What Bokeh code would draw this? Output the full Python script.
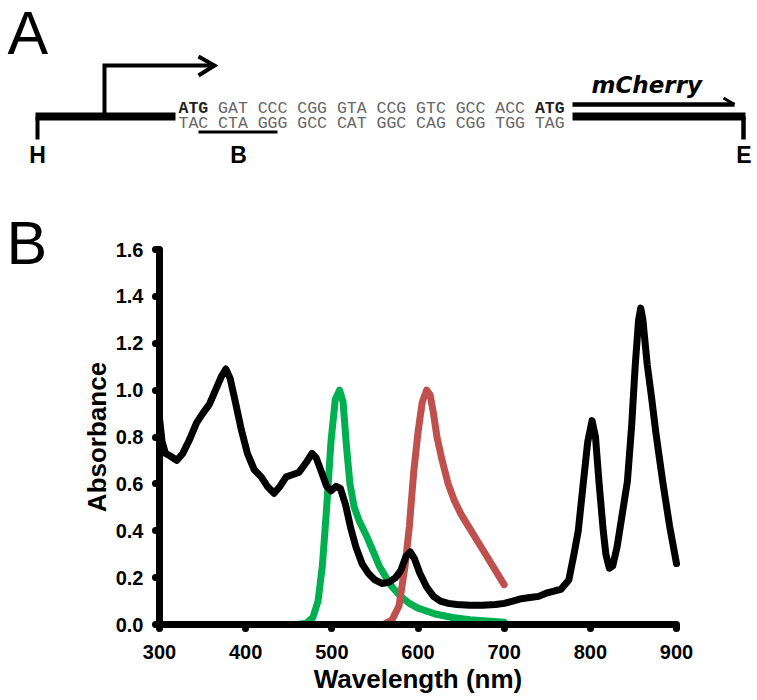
from bokeh.plotting import figure
from bokeh.models import Range1d, FixedTicker, PrintfTickFormatter, LinearAxis
from bokeh.embed import file_html
from bokeh.resources import INLINE
from bokeh.core.properties import value

# ---------------- data (panel B) ----------------
wl_black = [300, 303, 307, 312, 320, 327, 335, 343, 350, 358, 365, 372, 377, 382, 388,
            395, 402, 410, 418, 425, 433, 440, 447, 455, 462, 470, 477, 482, 488, 494,
            499, 505, 510, 516, 522, 528, 535, 542, 550, 558, 566, 574, 580, 586, 591,
            596, 602, 610, 618, 626, 635, 645, 660, 675, 690, 700, 710, 720, 730, 740,
            750, 760, 766, 775, 781, 786, 792, 797, 802, 806, 810, 815, 818, 822, 826,
            831, 837, 843, 848, 852, 856, 858.5, 861, 866, 871, 876, 884, 892, 900]
abs_black = [0.88, 0.78, 0.73, 0.72, 0.70, 0.73, 0.79, 0.86, 0.90, 0.94, 1.00, 1.06, 1.09, 1.05, 0.95,
             0.83, 0.73, 0.66, 0.63, 0.59, 0.56, 0.59, 0.63, 0.64, 0.65, 0.69, 0.73, 0.71, 0.65, 0.59,
             0.57, 0.59, 0.58, 0.51, 0.41, 0.33, 0.26, 0.22, 0.19, 0.175, 0.18, 0.20, 0.23, 0.29, 0.31,
             0.28, 0.22, 0.16, 0.12, 0.10, 0.09, 0.085, 0.082, 0.082, 0.085, 0.09, 0.10, 0.11, 0.115, 0.12,
             0.135, 0.145, 0.15, 0.19, 0.30, 0.40, 0.61, 0.78, 0.87, 0.80, 0.61, 0.40, 0.30, 0.24, 0.25,
             0.33, 0.47, 0.61, 0.85, 1.10, 1.30, 1.35, 1.30, 1.11, 0.97, 0.82, 0.61, 0.42, 0.26]

wl_green = [460, 470, 478, 484, 489, 494, 499, 504, 509, 513, 517, 521, 526, 532, 540,
            547, 555, 563, 570, 580, 590, 600, 620, 640, 660, 680, 700]
em_green = [0.0, 0.005, 0.03, 0.10, 0.25, 0.50, 0.78, 0.96, 1.00, 0.95, 0.76, 0.60, 0.50, 0.44, 0.38,
            0.32, 0.25, 0.20, 0.16, 0.12, 0.09, 0.07, 0.045, 0.03, 0.02, 0.015, 0.01]

wl_red = [560, 570, 578, 585, 590, 595, 600, 605, 610, 614, 618, 622, 628, 635, 642,
          650, 660, 670, 680, 690, 700]
em_red = [0.0, 0.02, 0.08, 0.25, 0.42, 0.65, 0.82, 0.95, 1.00, 0.98, 0.90, 0.80, 0.70, 0.60, 0.53,
          0.47, 0.41, 0.35, 0.29, 0.23, 0.17]

x_ticks = [300, 400, 500, 600, 700, 800, 900]
y_ticks = [0.0, 0.2, 0.4, 0.6, 0.8, 1.0, 1.2, 1.4, 1.6]
x_min, x_max = 300, 900
y_min, y_max = 0.0, 1.6

# ---------------- data (panel A) ----------------
codons_top = ["ATG", "GAT", "CCC", "CGG", "GTA", "CCG", "GTC", "GCC", "ACC", "ATG"]
codons_bottom = ["TAC", "CTA", "GGG", "GCC", "CAT", "GGC", "CAG", "CGG", "TGG", "TAG"]
bold_top = [True, False, False, False, False, False, False, False, False, True]

# ---------------- layout (page pixels; the page template has no body margin) ----------------
W, H = 757, 700
CL, CR, CT, CB = 159, 676, 249, 624  # chart area (page px)

p = figure(width=W, height=H, x_range=Range1d(0, W), y_range=Range1d(H, 0),
           output_backend="svg", toolbar_location=None,
           x_axis_location=None, y_axis_location=None,
           min_border=0, min_border_left=0, min_border_right=0, min_border_top=0, min_border_bottom=0)
p.outline_line_color = None
p.grid.visible = False

# chart coordinate system: extra ranges mapped over the full canvas
wpp = (x_max - x_min) / (CR - CL)
app = (y_max - y_min) / (CB - CT)
p.extra_x_ranges = {"wl": Range1d(x_min - CL * wpp, x_max + (W - CR) * wpp)}
p.extra_y_ranges = {"ab": Range1d(y_min - (H - CB) * app, y_max + CT * app)}

K_SANS = 0.37   # baseline correction (fraction of font size)
K_MONO = 0.26


def base(y, fs, k=K_SANS):
    return y - k * fs


# ---------------- panel A ----------------
letter_font = value("Liberation Sans")
p.text(x=[7], y=[base(55.5, 61)], text=["A"], text_font=letter_font,
       text_font_size="61px", text_baseline="alphabetic", text_align="left", text_color="black")
p.text(x=[6], y=[base(265, 61)], text=["B"], text_font=letter_font,
       text_font_size="61px", text_baseline="alphabetic", text_align="left", text_color="black")

# left bar
p.line([35, 175], [116, 116], line_width=8, color="black")
p.line([37, 37], [116, 139], line_width=4, color="black")
# promoter arrow
p.line([104, 104, 214], [115, 65, 65], line_width=4, color="black", line_join="miter")
p.line([198, 214, 198], [56, 65, 75], line_width=4, color="black", line_join="miter")

# sequence text
x0 = 178
fs = 16.5
cw = fs * 0.6
xs_codon = [x0 + i * 4 * cw for i in range(len(codons_top))]
xb = [x for x, b in zip(xs_codon, bold_top) if b]
tb = [c for c, b in zip(codons_top, bold_top) if b]
xr = [x for x, b in zip(xs_codon, bold_top) if not b]
tr = [c for c, b in zip(codons_top, bold_top) if not b]
mono = value("Liberation Mono")
y1 = base(112, fs, K_MONO)
y2 = base(127.5, fs, K_MONO)
p.text(x=xb, y=[y1] * len(xb), text=tb, text_font=mono, text_font_style="bold",
       text_font_size=f"{fs}px", text_baseline="alphabetic", text_color="#222222")
p.text(x=xr, y=[y1] * len(xr), text=tr, text_font=mono,
       text_font_size=f"{fs}px", text_baseline="alphabetic", text_color="#666666")
p.text(x=xs_codon, y=[y2] * len(xs_codon), text=codons_bottom, text_font=mono,
       text_font_size=f"{fs}px", text_baseline="alphabetic", text_color="#666666")
# primer underline
p.line([198, 277], [131.5, 131.5], line_width=3, color="black")

# right bar (mCherry)
p.line([572, 745], [116, 116], line_width=8, color="black")
p.line([743, 743], [116, 139], line_width=4.5, color="black")
p.line([572, 734], [104, 104], line_width=4.5, color="black")
p.line([723, 734], [97.5, 104], line_width=3, color="black")
p.text(x=[591], y=[base(93, 23)], text=["mCherry"], text_font=value("DejaVu Sans"),
       text_font_style="bold italic", text_font_size="23px", text_baseline="alphabetic", text_color="black")

# site labels
p.text(x=[37, 238, 743.5], y=[base(163, 23)] * 3, text=["H", "B", "E"], text_font=letter_font,
       text_font_style="bold", text_font_size="23px", text_baseline="alphabetic", text_align="center",
       text_color="black")

# ---------------- panel B: spectra ----------------
p.line(wl_green, em_green, line_width=7, color="#00b050", line_cap="round", line_join="round",
       x_range_name="wl", y_range_name="ab")
p.line(wl_red, em_red, line_width=7, color="#c0504d", line_cap="round", line_join="round",
       x_range_name="wl", y_range_name="ab")
p.line(wl_black, abs_black, line_width=7, color="black", line_cap="round", line_join="round",
       x_range_name="wl", y_range_name="ab")

xax = LinearAxis(x_range_name="wl", y_range_name="ab", fixed_location=y_min, bounds=(x_min, x_max))
yax = LinearAxis(x_range_name="wl", y_range_name="ab", fixed_location=x_min, bounds=(y_min, y_max))
for ax in (xax, yax):
    ax.axis_line_width = 7
    ax.axis_line_color = "black"
    ax.major_tick_line_width = 7
    ax.major_tick_line_cap = "round"
    ax.major_tick_line_color = "black"
    ax.major_tick_in = 0
    ax.major_tick_out = 4
    ax.minor_tick_line_color = None
    ax.major_label_text_font = "Liberation Sans"
    ax.major_label_text_font_style = "bold"
    ax.major_label_text_font_size = "20px"
    ax.major_label_text_color = "black"
    ax.axis_label_text_font = "Liberation Sans"
    ax.axis_label_text_font_style = "bold"
    ax.axis_label_text_font_size = "26px"
    ax.axis_label_text_color = "black"

xax.ticker = FixedTicker(ticks=x_ticks)
yax.ticker = FixedTicker(ticks=y_ticks)
yax.formatter = PrintfTickFormatter(format="%.1f")
xax.axis_label = "Wavelength (nm)"
yax.axis_label = "Absorbance"
xax.major_label_standoff = 16
yax.major_label_standoff = 12
xax.axis_label_standoff = 2
yax.axis_label_standoff = 1
p.add_layout(xax, "below")
p.add_layout(yax, "left")

open("out.html", "w").write(file_html(p, INLINE))
